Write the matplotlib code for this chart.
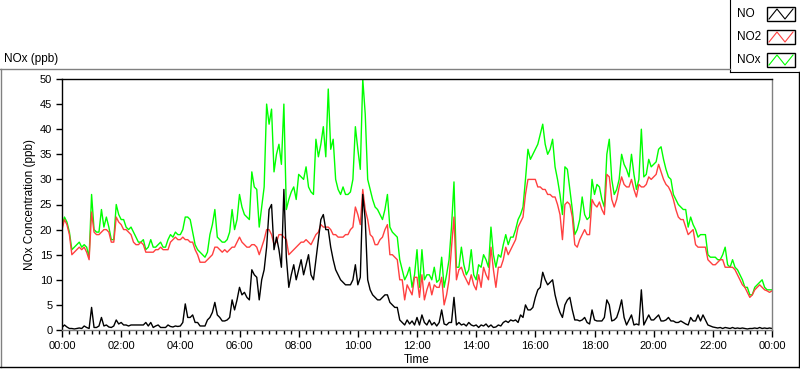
import numpy as np
import matplotlib
matplotlib.use('Agg')
import matplotlib.pyplot as plt
from matplotlib.lines import Line2D
from matplotlib.patches import Rectangle

# 5-minute readings, 00:00 -> 24:00 (one row per hour)
minutes = np.arange(0, 1441, 5)

nox = [
    20.5, 22.5, 21.5, 19.5, 16, 16.5, 17, 17.5, 16.5, 17, 16.5, 14.5,    # 00h
    27, 20, 19.5, 19.5, 24, 20.5, 22.5, 20.5, 18, 18, 25, 23,            # 01h
    22, 22, 20.5, 20, 20.5, 19.5, 18.5, 17.5, 17.5, 18, 16, 16.5,        # 02h
    18, 16.5, 16.5, 17, 17.5, 16.5, 16.5, 18, 19, 18.5, 19.5, 19,        # 03h
    19, 20, 22.5, 22.5, 22, 19.5, 17, 16, 15.5, 15, 14.5, 15.5,          # 04h
    19, 21, 24, 18.5, 18, 17.5, 17.5, 18, 19.5, 24, 20, 22,              # 05h
    27, 24.5, 23, 22.5, 22, 31.5, 28.5, 28, 20.5, 24.5, 28.5, 45,        # 06h
    41, 44, 31.5, 35, 37, 33, 45, 24, 26, 27.5, 28.5, 26,                # 07h
    31, 30.5, 30, 32.5, 28.5, 27.5, 27, 38, 34.5, 37, 40.5, 34.5,        # 08h
    48, 36, 38, 30, 28, 27, 28.5, 27, 27, 27.5, 30, 40.5,                # 09h
    36, 32, 50, 43, 30, 28, 26, 24.5, 24, 23, 22, 24,                    # 10h
    27, 20.5, 19.5, 19, 18.5, 14, 12, 10, 11, 12.5, 8.5, 11,             # 11h
    16, 8.5, 16, 10, 11, 11, 10, 12.5, 9.5, 10, 14.5, 8.5,               # 12h
    11, 14, 20.5, 29.5, 12.5, 12.5, 16.5, 13, 11, 12, 16, 11,            # 13h
    10, 13, 12.5, 15, 14, 12.5, 20.5, 15, 12.5, 15, 14.5, 17,            # 14h
    19, 17, 18.5, 18.5, 20, 22, 23, 24.5, 30, 36, 34, 35,                # 15h
    36, 37, 39, 41, 37, 35, 36, 38, 32.5, 30, 27, 23,                    # 16h
    32.5, 32, 28, 24, 19, 20, 22, 26.5, 23, 22, 22.5, 30,                # 17h
    27, 29, 28.5, 26, 24.5, 35, 38, 30, 27, 28, 30, 35,                  # 18h
    33, 32, 30.5, 35, 31, 28, 30, 40, 30.5, 31, 34, 32.5,                # 19h
    33, 33.5, 36, 36.5, 34, 32, 30.5, 30, 27, 26, 25, 24.5,              # 20h
    24, 24, 20.5, 22.5, 21, 20, 18.5, 19, 19, 19, 15, 14.5,              # 21h
    14.5, 14.5, 14, 14, 15, 16.5, 13, 12.5, 14, 12.5, 12, 11,            # 22h
    10, 8.5, 8.5, 7, 7, 8.5, 9, 9.5, 10, 8.5, 8, 8,                      # 23h
    8,
]

no2 = [
    20, 22, 21, 19, 15, 15.5, 16, 16.5, 16, 16.5, 15.5, 14,
    23.5, 19.5, 19, 19, 19.5, 20, 20, 19.5, 17.5, 17.5, 22.5, 21.5,
    21, 20, 20, 19.5, 19, 17.5, 17, 17, 17.5, 17, 15.5, 15.5,
    15.5, 15.5, 16, 16, 16.5, 16, 16, 16, 17.5, 18, 18.5, 18,
    18, 18.5, 18, 18, 17.5, 17.5, 16, 15, 13.5, 13.5, 13.5, 14,
    14.5, 15, 16.5, 16.5, 16, 15.5, 16, 15.5, 16, 16.5, 16.5, 17.5,
    18.5, 17.5, 17, 16.5, 16.5, 17, 17, 16.5, 15, 16.5, 18, 20,
    20, 19, 17, 17.5, 19, 19, 18.5, 18, 15, 15.5, 16, 16.5,
    17, 17.5, 17.5, 18, 17.5, 17, 18, 19, 19.5, 21, 20.5, 20.5,
    20.5, 20, 19, 19, 18.5, 18.5, 18.5, 19, 19, 20, 20.5, 24.5,
    23, 21, 28, 24, 22, 19, 18.5, 17, 17, 18, 18.5, 20,
    21, 15, 15, 14.5, 14, 10, 10, 6, 9, 8, 7, 10.5,
    10.5, 6.5, 11, 6, 8, 9.5, 7, 9, 8.5, 8.5, 10.5, 5,
    7, 10, 16.5, 22.5, 10, 12, 12.5, 11, 10, 9, 11, 9,
    8, 11, 8.5, 12.5, 11, 10, 16.5, 12, 8.5, 12.5, 12.5, 14,
    16.5, 15, 16, 17, 18, 20.5, 21.5, 22.5, 27, 30, 30, 30,
    30, 28.5, 28.5, 28, 28, 27, 27, 26.5, 26.5, 25, 23, 18,
    25, 25.5, 25, 22.5, 17, 16.5, 18, 19, 20, 19, 19, 26,
    25, 24.5, 25.5, 24, 23, 31, 30.5, 26, 24.5, 26, 28.5, 30.5,
    29, 28.5, 28.5, 30, 28, 26.5, 29, 28.5, 28.5, 29, 30.5, 30,
    30.5, 31, 33, 31.5, 30, 29, 28.5, 27.5, 26, 24, 22.5, 22,
    22, 20.5, 19, 19.5, 20, 17, 16.5, 16.5, 16.5, 16.5, 14, 13.5,
    13, 13, 13.5, 14, 14, 12.5, 12.5, 12.5, 12.5, 12, 11, 10,
    9, 8.5, 7.5, 6.5, 7, 8, 8.5, 9, 8.5, 8, 7.8, 7.5,
    7.8,
]

no = [
    0.5, 1, 0.6, 0.3, 0.3, 0.2, 0.3, 0.4, 0.3, 0.8, 0.5, 0.3,
    4.5, 0.5, 0.5, 0.8, 2.5, 0.8, 1, 0.6, 0.5, 0.8, 2, 1.2,
    1.5, 1, 1, 0.8, 1, 1, 1, 1, 1, 1, 1.5, 0.8,
    1.5, 0.5, 0.8, 1, 0.5, 0.5, 0.5, 1, 0.7, 0.6, 0.8, 0.7,
    0.8, 1.5, 5.2, 2.5, 2.5, 3, 1.5, 1.5, 0.8, 0.8, 0.8, 2,
    2.5, 3.5, 5.5, 3, 2.5, 1.8, 1.8, 2, 2.5, 6, 4, 6,
    8.5, 7, 7.5, 6.5, 6, 12, 11, 10.5, 6, 10, 12, 16.5,
    24, 25, 16, 18.5, 16, 12.5, 28, 14.5, 8.5, 11, 13, 10,
    12, 14, 11, 13, 15, 11, 10, 14, 18, 22, 23, 20,
    20, 16.5, 14, 12, 11, 10, 9.5, 9, 9, 9, 10, 13,
    9, 10.5, 27, 22, 10, 8, 7, 6.5, 6, 6, 6.5, 7,
    7, 5.5, 5, 4.5, 4.5, 2, 1.5, 1, 2, 1.2, 1.8, 1,
    2.5, 1, 3, 1.5, 1, 2, 1, 1.5, 0.8, 1.5, 4, 1.2,
    1, 1.5, 1.5, 6.5, 1, 1.5, 1, 1.2, 0.8, 1.5, 1, 0.8,
    1, 0.5, 1, 0.8, 1.2, 0.6, 1, 0.5, 0.6, 1, 0.8, 1.5,
    1.8, 1.5, 2, 1.8, 2, 1.5, 3, 2.5, 5, 4, 4, 4.5,
    6.5, 8, 8.5, 11.5, 10, 9, 9.5, 10, 7, 5, 3.5, 2.5,
    5, 6, 6.5, 4, 2, 2, 1.8, 2, 2.5, 1.5, 1.2, 4,
    2, 1.8, 1.8, 1.8, 2.5, 6, 5, 1.8, 2, 2.5, 4, 6,
    2.5, 1, 2, 3, 1, 1.2, 1, 8, 1, 2, 3, 2,
    2, 2.5, 3, 1.8, 1.8, 2, 2.5, 1.8, 1.8, 1.5, 1.5, 1.8,
    1.5, 1.2, 1, 2.5, 1.8, 1.8, 3, 1.8, 3, 2, 1, 0.8,
    0.6, 0.5, 0.4, 0.5, 0.3, 0.5, 0.4, 0.3, 0.5, 0.3, 0.4, 0.3,
    0.4, 0.3, 0.2, 0.3, 0.3, 0.4, 0.3, 0.5, 0.3, 0.4, 0.3, 0.4,
    0.3,
]

series_names = ['NO', 'NO2', 'NOx']
series_colors = {'NO': '#000000', 'NO2': '#FF4040', 'NOx': '#00FF00'}

plt.rcParams['font.family'] = ['Liberation Sans', 'DejaVu Sans']

W, H = 800, 369
fig = plt.figure(figsize=(W / 100, H / 100), dpi=100)


def fx(px):
    return px / W


def fy(py):
    return 1 - py / H


# plot area
ax = fig.add_axes([fx(62), fy(330), fx(772) - fx(62), fy(79) - fy(330)])
ax.plot(minutes, nox, color=series_colors['NOx'], lw=1.0)
ax.plot(minutes, no2, color=series_colors['NO2'], lw=1.0)
ax.plot(minutes, no, color=series_colors['NO'], lw=1.0)

ax.set_xlim(0, 1440)
ax.set_ylim(0, 50)
ax.set_yticks(np.arange(0, 51, 5))
ax.set_xticks(np.arange(0, 1441, 120))
ax.set_xticks(np.arange(0, 1441, 15), minor=True)
ax.set_xticklabels([f'{(m // 60) % 24:02d}:00' for m in range(0, 1441, 120)])
ax.tick_params(axis='y', direction='out', length=4, width=1, labelsize=8, pad=3)
ax.tick_params(axis='x', which='major', direction='out', length=5, width=1, labelsize=8, pad=3)
ax.tick_params(axis='x', which='minor', direction='out', length=3, width=1)

ax.spines['left'].set_color('black')
ax.spines['top'].set_color('black')
ax.spines['right'].set_color('#808080')
ax.spines['bottom'].set_color('#808080')
for s in ax.spines.values():
    s.set_linewidth(1)

fig.text(fx(30), fy(204), 'NOx Concentration (ppb)', rotation=90,
         ha='center', va='center', fontsize=8.5)
fig.text(fx(417), fy(360), 'Time', ha='center', va='center', fontsize=8.5)
fig.text(fx(4), fy(59), 'NOx (ppb)', ha='left', va='center', fontsize=8.5)

# outer panel frame (sunken look)
fig.add_artist(Line2D([fx(0), fx(730)], [fy(69), fy(69)], color='#808080', lw=1))
fig.add_artist(Line2D([fx(0.5), fx(0.5)], [fy(69), fy(367)], color='#808080', lw=1))
fig.add_artist(Line2D([fx(0), fx(799)], [fy(367), fy(367)], color='black', lw=1))
fig.add_artist(Line2D([fx(799), fx(799)], [fy(72), fy(367)], color='black', lw=1))

# legend panel
lg = fig.add_axes([fx(730), fy(72), fx(800) - fx(730), fy(0) - fy(72)])
lg.set_xlim(730, 800)
lg.set_ylim(72, 0)
lg.set_xticks([])
lg.set_yticks([])
for side in ['top', 'right']:
    lg.spines[side].set_visible(False)
lg.spines['left'].set_color('black')
lg.spines['bottom'].set_color('black')

zig_x = [769, 777, 785, 793]
zig_y = [1, -1, 1, -1]
for i, name in enumerate(series_names):
    yc = 14 + i * 23
    lg.text(737, yc, name, ha='left', va='center', fontsize=8.5)
    lg.add_patch(Rectangle((767, yc - 7), 28, 14, fill=False, edgecolor='black', lw=1))
    lg.plot(zig_x, [yc + 5 * z for z in zig_y], color=series_colors[name], lw=0.8)

fig.savefig('out.png', dpi=100)
